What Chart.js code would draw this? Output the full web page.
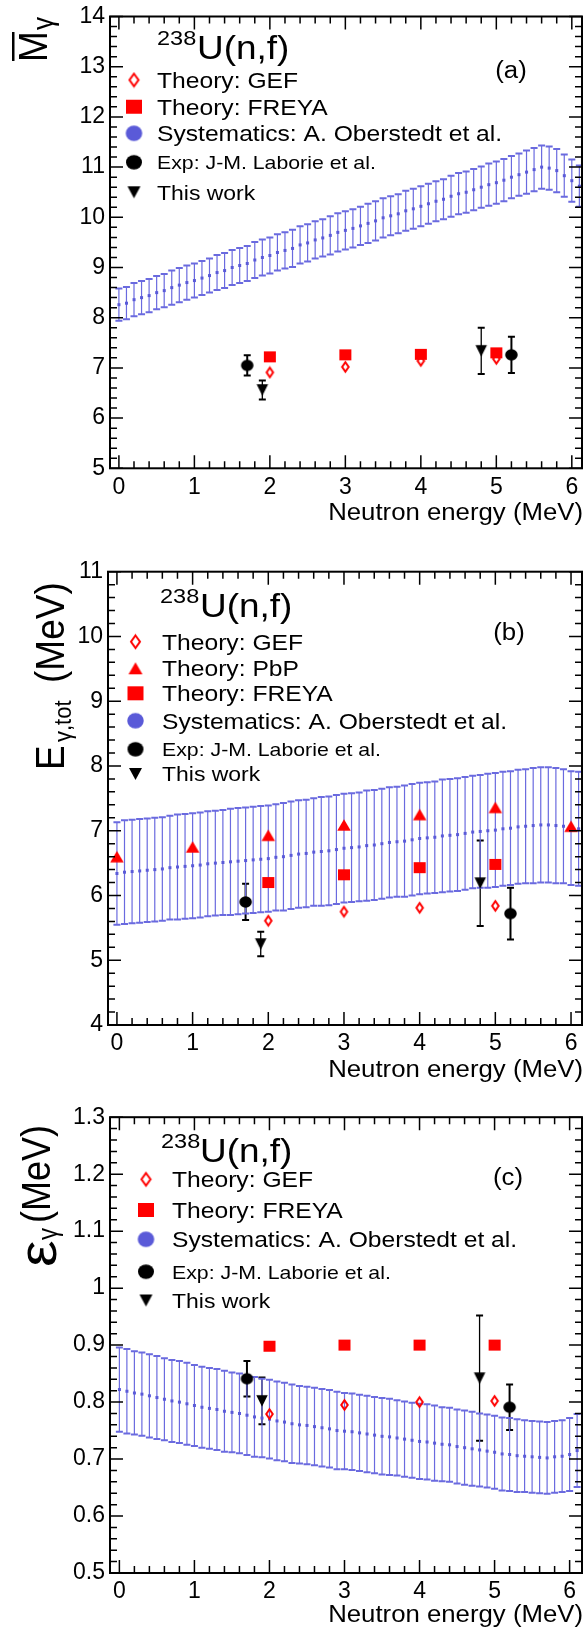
<!DOCTYPE html>
<html>
<head>
<meta charset="utf-8">
<script src="https://cdn.jsdelivr.net/npm/chart.js@4.4.1/dist/chart.umd.min.js"></script>
<style>
  body { margin: 0; background: #fff; width: 587px; height: 1633px; position: relative; overflow: hidden; }
  .panel { position: absolute; left: 0; width: 587px; }
</style>
</head>
<body>
<div class="panel" style="top:0;height:545px"><canvas id="chartA"></canvas></div>
<div class="panel" style="top:545px;height:555px"><canvas id="chartB"></canvas></div>
<div class="panel" style="top:1100px;height:533px"><canvas id="chartC"></canvas></div>
<script>
// ---- data ----
const energyTicks = [0, 1, 2, 3, 4, 5, 6];

const sysEnergy = [0.0, 0.1, 0.2, 0.3, 0.4, 0.5, 0.6, 0.7, 0.8, 0.9,
  1.0, 1.1, 1.2, 1.3, 1.4, 1.5, 1.6, 1.7, 1.8, 1.9,
  2.0, 2.1, 2.2, 2.3, 2.4, 2.5, 2.6, 2.7, 2.8, 2.9,
  3.0, 3.1, 3.2, 3.3, 3.4, 3.5, 3.6, 3.7, 3.8, 3.9,
  4.0, 4.1, 4.2, 4.3, 4.4, 4.5, 4.6, 4.7, 4.8, 4.9,
  5.0, 5.1, 5.2, 5.3, 5.4, 5.5, 5.6, 5.7, 5.8, 5.9,
  6.0, 6.1];
const theoryEnergy = [2, 3, 4, 5];
const pbpEnergy = [0, 1, 2, 3, 4, 5, 6];
const laborieEnergy = [1.7, 5.2];
const thisWorkEnergy = [1.9, 4.8];

// (a) mean multiplicity
const multTicks = [5, 6, 7, 8, 9, 10, 11, 12, 13, 14];
const multTickLabels = ['5', '6', '7', '8', '9', '10', '11', '12', '13', '14'];
const multGef = [6.91, 7.02, 7.14, 7.18];
const multFreya = [7.22, 7.26, 7.27, 7.30];
const multSys = [8.26, 8.29, 8.36, 8.40, 8.44, 8.50, 8.54, 8.60, 8.65, 8.70,
  8.74, 8.79, 8.84, 8.90, 8.94, 9.00, 9.04, 9.08, 9.15, 9.20,
  9.24, 9.30, 9.34, 9.38, 9.45, 9.49, 9.55, 9.59, 9.64, 9.70,
  9.74, 9.78, 9.83, 9.88, 9.93, 9.99, 10.03, 10.07, 10.13, 10.17,
  10.22, 10.27, 10.32, 10.36, 10.42, 10.47, 10.50, 10.55, 10.60, 10.65,
  10.69, 10.74, 10.80, 10.85, 10.90, 10.95, 11.00, 10.98, 10.93, 10.83,
  10.73, 10.62];
const multSysErr = [0.32, 0.32, 0.33, 0.33, 0.33, 0.33, 0.33, 0.34, 0.34, 0.34,
  0.34, 0.34, 0.34, 0.35, 0.35, 0.35, 0.35, 0.35, 0.36, 0.36,
  0.36, 0.36, 0.36, 0.37, 0.37, 0.37, 0.37, 0.37, 0.38, 0.38,
  0.38, 0.38, 0.38, 0.39, 0.39, 0.39, 0.39, 0.39, 0.40, 0.40,
  0.40, 0.40, 0.40, 0.40, 0.41, 0.41, 0.41, 0.41, 0.41, 0.42,
  0.42, 0.42, 0.42, 0.42, 0.43, 0.43, 0.43, 0.43, 0.43, 0.42,
  0.42, 0.41];
const multLaborie = [7.05, 7.26];
const multLaborieErr = [0.20, 0.36];
const multThisWork = [6.56, 7.34];
const multThisWorkErr = [0.19, 0.46];

// (b) total energy
const etotTicks = [4, 5, 6, 7, 8, 9, 10, 11];
const etotTickLabels = ['4', '5', '6', '7', '8', '9', '10', '11'];
const etotGef = [5.61, 5.75, 5.81, 5.84];
const etotPbp = [6.60, 6.75, 6.93, 7.09, 7.25, 7.36, 7.07];
const etotFreya = [6.20, 6.32, 6.43, 6.48];
const etotSys = [6.34, 6.36, 6.37, 6.38, 6.39, 6.40, 6.41, 6.43, 6.44, 6.45,
  6.46, 6.47, 6.49, 6.50, 6.51, 6.52, 6.53, 6.54, 6.55, 6.56,
  6.57, 6.59, 6.60, 6.62, 6.64, 6.65, 6.67, 6.68, 6.69, 6.71,
  6.73, 6.74, 6.75, 6.77, 6.78, 6.80, 6.82, 6.83, 6.84, 6.86,
  6.88, 6.89, 6.90, 6.92, 6.93, 6.94, 6.96, 6.98, 6.99, 7.00,
  7.01, 7.03, 7.04, 7.06, 7.07, 7.08, 7.09, 7.09, 7.08, 7.07,
  7.04, 7.03];
const etotSysErr = [0.79, 0.80, 0.80, 0.80, 0.80, 0.80, 0.80, 0.80, 0.81, 0.81,
  0.81, 0.81, 0.81, 0.81, 0.81, 0.82, 0.82, 0.82, 0.82, 0.82,
  0.82, 0.82, 0.83, 0.83, 0.83, 0.83, 0.83, 0.84, 0.84, 0.84,
  0.84, 0.84, 0.84, 0.85, 0.85, 0.85, 0.85, 0.85, 0.86, 0.86,
  0.86, 0.86, 0.86, 0.87, 0.87, 0.87, 0.87, 0.87, 0.87, 0.88,
  0.88, 0.88, 0.88, 0.88, 0.88, 0.89, 0.89, 0.89, 0.89, 0.88,
  0.88, 0.88];
const etotLaborie = [5.90, 5.72];
const etotLaborieErr = [0.28, 0.40];
const etotThisWork = [5.25, 6.19];
const etotThisWorkErr = [0.19, 0.66];

// (c) mean photon energy
const meanTicks = [0.5, 0.6, 0.7, 0.8, 0.9, 1.0, 1.1, 1.2, 1.3];
const meanTickLabels = ['0.5', '0.6', '0.7', '0.8', '0.9', '1', '1.1', '1.2', '1.3'];
const meanGef = [0.779, 0.795, 0.800, 0.802];
const meanFreya = [0.898, 0.900, 0.900, 0.900];
const meanSys = [0.822, 0.819, 0.816, 0.814, 0.811, 0.808, 0.805, 0.802, 0.800, 0.797,
  0.794, 0.791, 0.789, 0.787, 0.784, 0.782, 0.780, 0.777, 0.774, 0.772,
  0.770, 0.767, 0.765, 0.762, 0.760, 0.759, 0.757, 0.755, 0.753, 0.750,
  0.749, 0.748, 0.746, 0.744, 0.742, 0.740, 0.739, 0.737, 0.735, 0.733,
  0.731, 0.730, 0.728, 0.726, 0.725, 0.722, 0.720, 0.718, 0.716, 0.714,
  0.712, 0.709, 0.708, 0.706, 0.705, 0.704, 0.703, 0.702, 0.704, 0.705,
  0.708, 0.715];
const meanSysErr = [0.074, 0.074, 0.073, 0.073, 0.073, 0.073, 0.072, 0.072, 0.072, 0.072,
  0.071, 0.071, 0.071, 0.071, 0.071, 0.070, 0.070, 0.070, 0.070, 0.069,
  0.069, 0.069, 0.069, 0.069, 0.068, 0.068, 0.068, 0.068, 0.068, 0.068,
  0.067, 0.067, 0.067, 0.067, 0.067, 0.067, 0.067, 0.066, 0.066, 0.066,
  0.066, 0.066, 0.066, 0.065, 0.065, 0.065, 0.065, 0.065, 0.064, 0.064,
  0.064, 0.064, 0.064, 0.064, 0.063, 0.063, 0.063, 0.063, 0.063, 0.063,
  0.064, 0.064];
const meanLaborie = [0.841, 0.791];
const meanLaborieErr = [0.031, 0.040];
const meanThisWork = [0.802, 0.842];
const meanThisWorkErr = [0.041, 0.110];

// ---- look ----
const FONT = '"Liberation Sans", Arial, Helvetica, sans-serif';
const SX = 1.12; // the figure's text is a little wider than tall
const RED = '#ff0000';
const BLUE = '#5a5ad8';
const BLUE_BAR = '#6a6adf';

function marker(shape, w, h, color, lw) {
  const c = document.createElement('canvas');
  c.width = Math.ceil(w + 4);
  c.height = Math.ceil(h + 4);
  const g = c.getContext('2d');
  const cx = c.width / 2, cy = c.height / 2;
  g.beginPath();
  if (shape === 'rect') g.rect(cx - w / 2, cy - h / 2, w, h);
  else if (shape === 'circle') g.ellipse(cx, cy, w / 2, h / 2, 0, 0, Math.PI * 2);
  else if (shape === 'up') { g.moveTo(cx, cy - h / 2); g.lineTo(cx + w / 2, cy + h / 2); g.lineTo(cx - w / 2, cy + h / 2); g.closePath(); }
  else if (shape === 'down') { g.moveTo(cx, cy + h / 2); g.lineTo(cx + w / 2, cy - h / 2); g.lineTo(cx - w / 2, cy - h / 2); g.closePath(); }
  else if (shape === 'diamond') { g.moveTo(cx, cy - h / 2); g.lineTo(cx + w / 2, cy); g.lineTo(cx, cy + h / 2); g.lineTo(cx - w / 2, cy); g.closePath(); }
  if (lw) { g.strokeStyle = color; g.lineWidth = lw; g.stroke(); }
  else { g.fillStyle = color; g.fill(); }
  return c;
}

const mk = {
  diamond: marker('diamond', 6.5, 9.5, RED, 2),
  square: marker('rect', 12, 11, RED),
  triUp: marker('up', 13.5, 11.5, RED),
  circle: marker('circle', 12.5, 11.5, '#000'),
  triDown: marker('down', 11.5, 11.5, '#000'),
  dot: marker('rect', 3, 3, BLUE)
};
const lg = {
  diamond: marker('diamond', 9, 12.5, RED, 2),
  square: marker('rect', 16, 14, RED),
  triUp: marker('up', 14, 12, RED),
  blue: marker('circle', 16.5, 15.5, BLUE),
  circle: marker('circle', 16, 14.5, '#000'),
  triDown: marker('down', 13, 12, '#000')
};

function series(xs, ys, style, extra) {
  return Object.assign({
    data: xs.map((x, i) => ({ x: x, y: ys[i] })),
    pointStyle: style,
    pointRadius: 5,
    pointHoverRadius: 5,
    borderWidth: 0
  }, extra || {});
}

function wideText(ctx, str, x, y, size, align) {
  ctx.save();
  ctx.font = size + 'px ' + FONT;
  ctx.fillStyle = '#000';
  ctx.textAlign = align || 'left';
  ctx.textBaseline = 'alphabetic';
  ctx.translate(x, y);
  ctx.scale(SX, 1);
  ctx.fillText(str, 0, 0);
  ctx.restore();
}

// rotated (bottom-to-top) axis title built from pieces
function upText(ctx, x, y, pieces, bars) {
  ctx.save();
  ctx.translate(x, y);
  ctx.rotate(-Math.PI / 2);
  ctx.scale(1, SX);
  ctx.fillStyle = '#000';
  ctx.textBaseline = 'alphabetic';
  pieces.forEach(p => {
    ctx.font = p.size + 'px ' + FONT;
    ctx.save();
    ctx.translate(p.u, p.v / SX);
    ctx.scale(p.stretch || 1, 1);
    ctx.fillText(p.text, 0, 0);
    ctx.restore();
  });
  (bars || []).forEach(b => ctx.fillRect(b.u, b.v / SX, b.len, b.t / SX));
  ctx.restore();
}

function minorsOf(majors, n) {
  const out = [];
  for (let i = 0; i < majors.length - 1; i++) {
    const step = (majors[i + 1] - majors[i]) / n;
    for (let k = 1; k < n; k++) out.push(majors[i] + k * step);
  }
  return out;
}

const errorBars = {
  id: 'errorBars',
  beforeDatasetsDraw(chart) {
    const ctx = chart.ctx, y = chart.scales.y;
    chart.data.datasets.forEach((ds, i) => {
      if (!ds.errors) return;
      const meta = chart.getDatasetMeta(i);
      ctx.save();
      ctx.strokeStyle = ds.errorColor;
      meta.data.forEach((pt, j) => {
        const v = ds.data[j].y, e = ds.errors[j];
        const top = y.getPixelForValue(v + e), bot = y.getPixelForValue(v - e);
        const c = ds.capHalf;
        ctx.lineWidth = ds.errorWidth;
        ctx.beginPath();
        ctx.moveTo(pt.x, top); ctx.lineTo(pt.x, bot);
        ctx.stroke();
        ctx.lineWidth = ds.capWidth;
        ctx.beginPath();
        ctx.moveTo(pt.x - c, top); ctx.lineTo(pt.x + c, top);
        ctx.moveTo(pt.x - c, bot); ctx.lineTo(pt.x + c, bot);
        ctx.stroke();
      });
      ctx.restore();
    });
  }
};

function decor(p) {
  return {
    id: 'decor',
    afterDraw(chart) {
      const ctx = chart.ctx, a = chart.chartArea;
      const xs = chart.scales.x, ys = chart.scales.y;
      ctx.save();
      ctx.strokeStyle = '#000';
      // inside ticks on all four sides
      const xMin = minorsOf(energyTicks, 5);
      const yMin = minorsOf(p.yTicks, 5);
      ctx.lineWidth = 1.5;
      ctx.beginPath();
      energyTicks.forEach(v => {
        const px = xs.getPixelForValue(v);
        ctx.moveTo(px, a.bottom); ctx.lineTo(px, a.bottom - 13);
        ctx.moveTo(px, a.top); ctx.lineTo(px, a.top + 13);
      });
      xMin.forEach(v => {
        const px = xs.getPixelForValue(v);
        ctx.moveTo(px, a.bottom); ctx.lineTo(px, a.bottom - 7);
        ctx.moveTo(px, a.top); ctx.lineTo(px, a.top + 7);
      });
      p.yTicks.forEach(v => {
        const py = ys.getPixelForValue(v);
        ctx.moveTo(a.left, py); ctx.lineTo(a.left + 13, py);
        ctx.moveTo(a.right, py); ctx.lineTo(a.right - 13, py);
      });
      yMin.forEach(v => {
        const py = ys.getPixelForValue(v);
        ctx.moveTo(a.left, py); ctx.lineTo(a.left + 7, py);
        ctx.moveTo(a.right, py); ctx.lineTo(a.right - 7, py);
      });
      ctx.stroke();
      ctx.lineWidth = 2;
      ctx.strokeRect(a.left, a.top, a.right - a.left, a.bottom - a.top);
      ctx.restore();

      // reaction label and panel tag
      wideText(ctx, '238', p.title.x1, p.title.y1, 21);
      wideText(ctx, 'U(n,f)', p.title.x2, p.title.y2, 33);
      wideText(ctx, p.tag.text, p.tag.x, p.tag.y, 23, 'center');

      // legend
      p.legend.rows.forEach(r => {
        ctx.drawImage(r.marker, p.legend.markerX - r.marker.width / 2, r.y - r.marker.height / 2);
        wideText(ctx, r.label, p.legend.textX, r.y + 0.36 * r.size, r.size);
      });

      // axis titles
      p.yTitle(ctx);
      wideText(ctx, 'Neutron energy (MeV)', 583, p.xTitleY, 23, 'right');
    }
  };
}

function buildPanel(p) {
  const tickFont = { family: FONT, size: 23, lineHeight: 1 };
  return new Chart(document.getElementById(p.id), {
    type: 'scatter',
    data: { datasets: p.datasets },
    options: {
      responsive: true,
      maintainAspectRatio: false,
      animation: false,
      events: [],
      layout: { padding: { top: p.area.top, right: 587 - p.area.right, left: 0, bottom: 0 } },
      scales: {
        x: {
          type: 'linear', min: p.xMin, max: p.xMax,
          afterFit: s => { s.height = p.height - p.area.bottom; },
          afterBuildTicks: s => { s.ticks = energyTicks.map(v => ({ value: v })); },
          grid: { display: false, drawTicks: false },
          border: { display: false },
          ticks: { padding: 7.5, color: '#000', font: tickFont, maxRotation: 0, autoSkip: false,
            callback: (v, i) => String(energyTicks[i]) }
        },
        y: {
          type: 'linear', min: p.yTicks[0], max: p.yTicks[p.yTicks.length - 1],
          afterFit: s => { s.width = p.area.left; },
          afterBuildTicks: s => { s.ticks = p.yTicks.map(v => ({ value: v })); },
          grid: { display: false, drawTicks: false },
          border: { display: false },
          ticks: { padding: 5, color: '#000', font: tickFont, autoSkip: false,
            callback: (v, i) => p.yTickLabels[i] }
        }
      },
      plugins: { legend: { display: false }, tooltip: { enabled: false } }
    },
    plugins: [errorBars, decor(p)]
  });
}

function expSets(lab, labErr, tw, twErr) {
  return [
    series(thisWorkEnergy, tw, mk.triDown, { errors: twErr, errorColor: '#000', errorWidth: 1.3, capWidth: 2, capHalf: 3.5 }),
    series(laborieEnergy, lab, mk.circle, { errors: labErr, errorColor: '#000', errorWidth: 2, capWidth: 2, capHalf: 3.5 })
  ];
}
function sysSet(vals, errs) {
  return series(sysEnergy, vals, mk.dot, { errors: errs, errorColor: BLUE_BAR, errorWidth: 1.2, capWidth: 2, capHalf: 3.5 });
}

// (a)
buildPanel({
  id: 'chartA', height: 545,
  area: { left: 110, right: 585, top: 12.7, bottom: 468.3 },
  xMin: -0.118, xMax: 6.135,
  yTicks: multTicks, yTickLabels: multTickLabels,
  datasets: expSets(multLaborie, multLaborieErr, multThisWork, multThisWorkErr).concat([
    series(theoryEnergy, multFreya, mk.square),
    series(theoryEnergy, multGef, mk.diamond),
    sysSet(multSys, multSysErr)
  ]),
  title: { x1: 157, y1: 45, x2: 197, y2: 59 },
  tag: { text: '(a)', x: 511, y: 78 },
  legend: { markerX: 134, textX: 157, rows: [
    { y: 80, label: 'Theory: GEF', size: 22, marker: lg.diamond },
    { y: 106.7, label: 'Theory: FREYA', size: 22, marker: lg.square },
    { y: 133.3, label: 'Systematics: A. Oberstedt et al.', size: 22, marker: lg.blue },
    { y: 162.3, label: 'Exp: J-M. Laborie et al.', size: 19, marker: lg.circle },
    { y: 192.3, label: 'This work', size: 20.5, marker: lg.triDown }
  ] },
  yTitle: ctx => upText(ctx, 47, 62,
    [{ text: 'M', size: 37, u: 0, v: 0 }, { text: 'γ', size: 26, u: 32, v: 6 }],
    [{ u: 1, v: -35, len: 29, t: 2.5 }]),
  xTitleY: 520
});

// (b)
buildPanel({
  id: 'chartB', height: 555,
  area: { left: 108, right: 584, top: 26.7, bottom: 480 },
  xMin: -0.118, xMax: 6.145,
  yTicks: etotTicks, yTickLabels: etotTickLabels,
  datasets: expSets(etotLaborie, etotLaborieErr, etotThisWork, etotThisWorkErr).concat([
    series(theoryEnergy, etotFreya, mk.square),
    series(pbpEnergy, etotPbp, mk.triUp),
    series(theoryEnergy, etotGef, mk.diamond),
    sysSet(etotSys, etotSysErr)
  ]),
  title: { x1: 160, y1: 58, x2: 200, y2: 72 },
  tag: { text: '(b)', x: 509, y: 94.5 },
  legend: { markerX: 135.5, textX: 162, rows: [
    { y: 96.7, label: 'Theory: GEF', size: 22, marker: lg.diamond },
    { y: 123.3, label: 'Theory: PbP', size: 22, marker: lg.triUp },
    { y: 148.3, label: 'Theory: FREYA', size: 22, marker: lg.square },
    { y: 175.7, label: 'Systematics: A. Oberstedt et al.', size: 22, marker: lg.blue },
    { y: 204.3, label: 'Exp: J-M. Laborie et al.', size: 19, marker: lg.circle },
    { y: 229, label: 'This work', size: 20.5, marker: lg.triDown }
  ] },
  yTitle: ctx => upText(ctx, 63.5, 225, [
    { text: 'E', size: 37, u: 0, v: 0 },
    { text: 'γ,tot', size: 22, u: 28, v: 7 },
    { text: '(MeV)', size: 37, u: 87, v: 0 }
  ]),
  xTitleY: 532
});

// (c)
buildPanel({
  id: 'chartC', height: 533,
  area: { left: 110, right: 585, top: 17.2, bottom: 473 },
  xMin: -0.125, xMax: 6.165,
  yTicks: meanTicks, yTickLabels: meanTickLabels,
  datasets: expSets(meanLaborie, meanLaborieErr, meanThisWork, meanThisWorkErr).concat([
    series(theoryEnergy, meanFreya, mk.square),
    series(theoryEnergy, meanGef, mk.diamond),
    sysSet(meanSys, meanSysErr)
  ]),
  title: { x1: 161, y1: 48, x2: 200, y2: 61.7 },
  tag: { text: '(c)', x: 508, y: 84.5 },
  legend: { markerX: 146, textX: 172, rows: [
    { y: 79.3, label: 'Theory: GEF', size: 22, marker: lg.diamond },
    { y: 110, label: 'Theory: FREYA', size: 22, marker: lg.square },
    { y: 139.3, label: 'Systematics: A. Oberstedt et al.', size: 22, marker: lg.blue },
    { y: 171.7, label: 'Exp: J-M. Laborie et al.', size: 19, marker: lg.circle },
    { y: 200.5, label: 'This work', size: 20.5, marker: lg.triDown }
  ] },
  yTitle: ctx => upText(ctx, 49.5, 168, [
    { text: 'ε', size: 46, u: 1, v: 6, stretch: 1.3 },
    { text: 'γ', size: 24, u: 28, v: 7.5 },
    { text: '(MeV)', size: 36, u: 45, v: 0 }
  ]),
  xTitleY: 522
});
</script>
</body>
</html>
